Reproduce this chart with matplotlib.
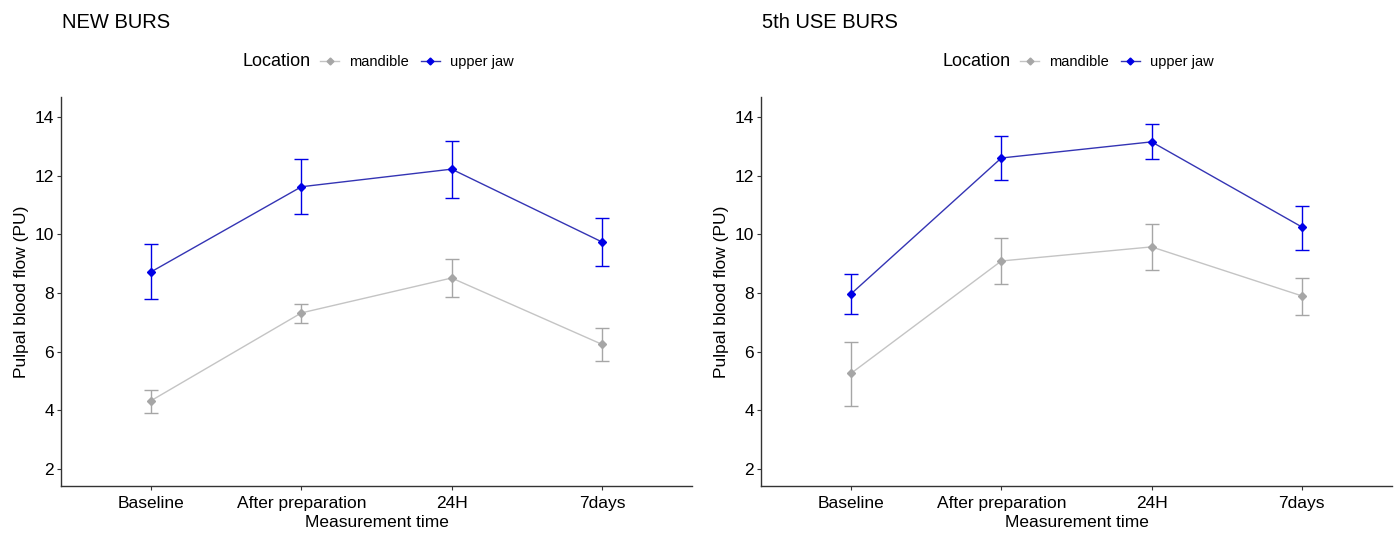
import numpy as np
import matplotlib.pyplot as plt
from matplotlib.lines import Line2D

plt.rcParams['font.family'] = ['Liberation Sans', 'DejaVu Sans']

times = ["Baseline", "After preparation", "24H", "7days"]

# NEW BURS
new_upper = [8.72, 11.62, 12.22, 9.74]
new_upper_lo = [7.8, 10.68, 11.25, 8.92]
new_upper_hi = [9.66, 12.57, 13.19, 10.56]
new_mand = [4.33, 7.32, 8.51, 6.25]
new_mand_lo = [3.91, 6.99, 7.86, 5.69]
new_mand_hi = [4.69, 7.63, 9.17, 6.81]

# 5th USE BURS
used_upper = [7.97, 12.6, 13.15, 10.25]
used_upper_lo = [7.27, 11.86, 12.57, 9.47]
used_upper_hi = [8.65, 13.35, 13.76, 10.97]
used_mand = [5.26, 9.09, 9.57, 7.9]
used_mand_lo = [4.15, 8.29, 8.77, 7.25]
used_mand_hi = [6.33, 9.88, 10.36, 8.51]

gray = "#a6a6a6"
blue = "#0000e6"

fig = plt.figure(figsize=(13.97, 5.34), dpi=100)


def panel(left, title, upper, ulo, uhi, mand, mlo, mhi):
    ax = fig.add_axes([left, 0.0899, 0.4517, 0.7285])
    x = np.arange(1, len(times) + 1)
    for y, lo, hi, c, lc in [(mand, mlo, mhi, gray, "#c4c4c4"), (upper, ulo, uhi, blue, "#3434b4")]:
        y = np.array(y)
        ax.plot(x, y, color=lc, lw=1.0, zorder=2)
        ax.errorbar(x, y, yerr=[y - np.array(lo), np.array(hi) - y], fmt='none',
                    ecolor=c, elinewidth=1.0, capsize=5, capthick=1.0, zorder=3)
        ax.plot(x, y, 'D', color=c, ms=4, zorder=4)
    ax.set_xlim(0.4, 4.6)
    ax.set_ylim(1.42, 14.68)
    ax.set_xticks(x)
    ax.set_xticklabels(times)
    ax.set_yticks([2, 4, 6, 8, 10, 12, 14])
    for s in ['top', 'right']:
        ax.spines[s].set_visible(False)
    for s in ['left', 'bottom']:
        ax.spines[s].set_color('#333333')
        ax.spines[s].set_linewidth(1.0)
    ax.tick_params(labelsize=12.5, colors='#333333', labelcolor='black', length=3, pad=2)
    ax.tick_params(axis='x', pad=4)
    ax.set_xlabel("Measurement time", fontsize=12.5, labelpad=3)
    ax.set_ylabel("Pulpal blood flow (PU)", fontsize=12.5, labelpad=4)
    fig.text(left + 0.0005, 0.958, title, fontsize=14.5, va='center', ha='left')
    fig.text(left + 0.13, 0.884, "Location", fontsize=13, va='center', ha='left')
    handles = [Line2D([], [], color="#c4c4c4", marker='D', mfc=gray, mec=gray, ms=3.5, lw=1),
               Line2D([], [], color="#3434b4", marker='D', mfc=blue, mec=blue, ms=3.5, lw=1)]
    fig.legend(handles, ["mandible", "upper jaw"], loc='center left',
               bbox_to_anchor=(left + 0.1855, 0.884), ncol=2, frameon=False,
               fontsize=10.5, handlelength=1.3, handletextpad=0.7, columnspacing=0.8,
               borderaxespad=0, borderpad=0)
    return ax


panel(0.04367, "NEW BURS", new_upper, new_upper_lo, new_upper_hi, new_mand, new_mand_lo, new_mand_hi)
panel(0.5447, "5th USE BURS", used_upper, used_upper_lo, used_upper_hi, used_mand, used_mand_lo, used_mand_hi)

fig.savefig("out.png", dpi=100)
